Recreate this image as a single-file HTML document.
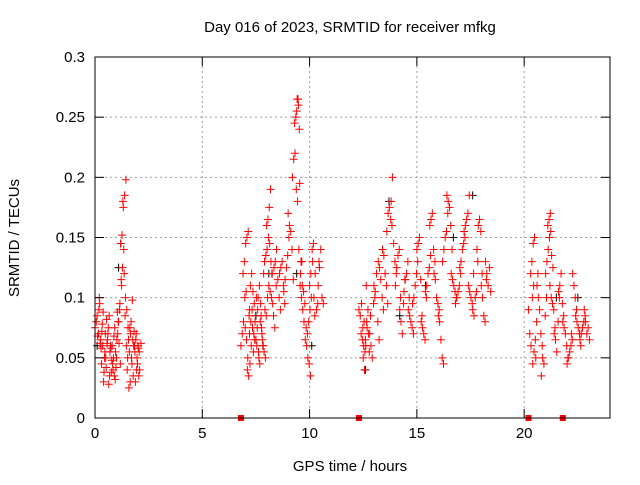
<!DOCTYPE html>
<html><head><meta charset="utf-8"><style>
body{margin:0;background:#fff}
svg text{font-family:"Liberation Sans",sans-serif;font-size:15px;fill:#000}
</style></head><body>
<svg id="chart" width="640" height="480" viewBox="0 0 640 480" xmlns="http://www.w3.org/2000/svg">
<rect width="640" height="480" fill="#fff"/>
<text x="350" y="32" text-anchor="middle">Day 016 of 2023, SRMTID for receiver mfkg</text>
<text x="350" y="471" text-anchor="middle">GPS time / hours</text>
<text transform="translate(19,238) rotate(-90)" text-anchor="middle">SRMTID / TECUs</text>
<g id="grid"></g>
<g id="marks"></g>
<rect x="95" y="57" width="515" height="361" fill="none" stroke="#000" stroke-width="1"/>
<g id="axes"></g>
</svg>
<script>
const xTicks=[0,5,10,15,20];
const yTicks=[0,0.05,0.1,0.15,0.2,0.25,0.3];
const yTickLabels=["0","0.05","0.1","0.15","0.2","0.25","0.3"];
const groupTimes=[0,0.1,0.2,0.3,0.4,0.5,0.6,0.7,0.8,0.9,1.0,1.1,1.2,1.3,1.4,1.5,1.6,1.7,1.8,1.9,2.0,
6.8,6.9,7.0,7.1,7.2,7.3,7.4,7.5,7.6,7.7,7.8,7.9,8.0,8.1,8.2,8.4,8.6,8.8,9.0,9.2,9.3,9.4,9.5,9.6,9.8,9.9,10.0,10.2,10.4,
12.3,12.4,12.5,12.6,12.8,13.0,13.2,13.4,13.6,13.8,14.0,14.2,14.4,14.6,14.8,15.0,15.2,15.4,15.6,15.8,16.0,16.2,16.4,16.6,16.8,17.0,17.2,17.4,17.6,17.8,18.0,18.2,
20.2,20.3,20.4,20.6,20.8,21.0,21.1,21.2,21.4,21.6,21.8,22.0,22.2,22.4,22.6,22.8];
const groupValues=[
[.075,.08,.068,.09,.062],[.085,.07,.095,.058,.078],[.1,.065,.072,.088,.05],[.045,.06,.038,.07,.082],[.03,.055,.042,.065,.028],
[.05,.062,.075,.035,.058],[.07,.085,.06,.048,.04],[.055,.038,.045,.068,.032],[.06,.05,.075,.042,.088],[.035,.055,.065,.08,.09],
[.05,.07,.062,.045,.11],[.08,.095,.115,.125,.14],[.145,.152,.175,.185,.198],[.18,.12,.1,.09,.075],[.085,.06,.05,.025,.03],
[.04,.065,.075,.08,.098],[.055,.07,.045,.035,.06],[.05,.065,.072,.03,.04],[.06,.055,.07,.045,.035],[.065,.05,.058,.04,.062],[.06,.055],
[.06,.07,.08,.1,.105],[.12,.13,.145,.15,.155,.09],[.075,.065,.05,.085,.11],[.04,.035,.045,.06,.075],[.07,.08,.09,.055,.065],
[.12,.105,.095,.085,.06],[.07,.08,.1,.09,.05],[.065,.075,.055,.045,.085],[.1,.11,.095,.07,.06],[.08,.075,.06,.055,.05],
[.065,.12,.09,.085,.1],[.13,.135,.14,.15,.145],[.16,.165,.175,.19,.12],[.11,.105,.1,.095,.125],[.13,.12,.085,.075,.11],
[.13,.14,.115,.1,.09],[.12,.125,.13,.11,.095],[.105,.115,.125,.135,.15],[.17,.16,.155,.14,.115],[.2,.215,.22,.19,.18],
[.245,.25,.265,.26,.195],[.255,.265,.24,.12,.13],[.14,.11,.1,.09,.08],[.13,.11,.105,.095,.075],[.065,.06,.05,.045,.035],
[.07,.08,.09,.1,.13],[.11,.12,.14,.145,.085],[.1,.12,.09,.095,.13],[.11,.125,.14,.1,.095],
[.09,.085,.095,.075,.08],[.07,.065,.06,.055,.11],[.05,.04,.06,.075,.07],[.065,.08,.09,.055,.085],[.07,.06,.05,.095,.1],
[.11,.105,.12,.08,.065],[.13,.125,.115,.1,.09],[.14,.135,.12,.11,.095],[.155,.17,.175,.165,.16],[.18,.2,.145,.13,.12],
[.11,.125,.135,.14,.1],[.09,.08,.07,.095,.115],[.105,.115,.12,.13,.1],[.09,.085,.08,.075,.07],[.095,.1,.11,.12,.13],
[.14,.145,.15,.115,.085],[.08,.075,.07,.065,.1],[.105,.11,.12,.125,.135],[.16,.165,.17,.14,.13],[.12,.115,.1,.095,.09],
[.085,.08,.065,.05,.045],[.13,.14,.15,.155,.17],[.185,.18,.175,.16,.14],[.12,.115,.11,.105,.1],[.095,.1,.105,.11,.12],
[.125,.13,.14,.145,.15],[.155,.16,.165,.17,.185],[.11,.105,.1,.095,.12],[.09,.085,.1,.105,.13],[.14,.16,.165,.155,.12],
[.11,.1,.085,.08,.115],[.13,.12,.11,.125,.105],
[.09,.07,.06,.1,.11],[.12,.13,.145,.15,.05],[.045,.055,.065,.08,.12],[.11,.1,.09,.07,.06],[.035,.05,.045,.085,.1],
[.12,.13,.14,.15,.155],[.16,.165,.17,.135,.125],[.11,.1,.095,.09,.075],[.07,.065,.055,.08,.1],[.105,.11,.12,.095,.085],
[.08,.075,.07,.06,.05],[.045,.05,.055,.06,.065],[.07,.12,.11,.1,.09],[.085,.08,.075,.07,.06],[.065,.07,.075,.08,.085],[.09,.08,.07,.075,.065]];
const blackTimes=[0.1,1.2,1.1,8.1,9.4,13.7,12.6,17.6,15.4,16.7,21.5,22.5,10.1,7.5,14.2];
const blackValues=[.06,.145,.125,.12,.12,.18,.04,.185,.11,.15,.1,.1,.06,.085,.085];
const gapTimes=[6.8,12.3,20.2,21.8];

const NS="http://www.w3.org/2000/svg";
const X0=95,X1=610,Y0=418,Y1=57,XMAX=24,YMAX=0.3;
function sx(t){return X0+t/XMAX*(X1-X0);}
function sy(v){return Y0-v/YMAX*(Y0-Y1);}
function mk(tag,attrs,parent){const e=document.createElementNS(NS,tag);for(const k in attrs)e.setAttribute(k,attrs[k]);parent.appendChild(e);return e;}
const grid=document.getElementById('grid'),axes=document.getElementById('axes'),marks=document.getElementById('marks');
xTicks.forEach(t=>{
  const x=sx(t);
  if(t>0){const g=mk('line',{x1:x,y1:Y0,x2:x,y2:Y1,stroke:'#a0a0a0','stroke-dasharray':'2,3'},grid);
  
  }
  mk('line',{x1:x,y1:Y0,x2:x,y2:Y0-9,stroke:'#000'},axes);
  mk('line',{x1:x,y1:Y1,x2:x,y2:Y1+9,stroke:'#000'},axes);
  const l=mk('text',{x:x,y:Y0+20,'text-anchor':'middle'},axes);l.textContent=t;
  
  
});
yTicks.forEach((v,i)=>{
  const y=sy(v);
  if(v>0&&v<YMAX){const g=mk('line',{x1:X0,y1:y,x2:X1,y2:y,stroke:'#a0a0a0','stroke-dasharray':'2,3'},grid);
  
  }
  mk('line',{x1:X0,y1:y,x2:X0+9,y2:y,stroke:'#000'},axes);
  mk('line',{x1:X1,y1:y,x2:X1-9,y2:y,stroke:'#000'},axes);
  const l=mk('text',{x:X0-10,y:y+5,'text-anchor':'end'},axes);l.textContent=yTickLabels[i];
  
  
});
function plus(t,v,col){
  const x=sx(t),y=sy(v);
  const p=mk('path',{d:`M${x-4},${y}h8M${x},${y-4}v8`,stroke:col,'stroke-width':1,fill:'none'},marks);
  
  
}
blackTimes.forEach((t,i)=>plus(t,blackValues[i],'#000'));
groupTimes.forEach((t,gi)=>{
  groupValues[gi].forEach((v,i)=>plus(t+i*0.06,v,'#f00'));
});
gapTimes.forEach(t=>{
  const r=mk('rect',{x:sx(t)-3,y:Y0-3,width:6,height:6,fill:'#f00'},marks);
  
  
});
</script>
</body></html>
